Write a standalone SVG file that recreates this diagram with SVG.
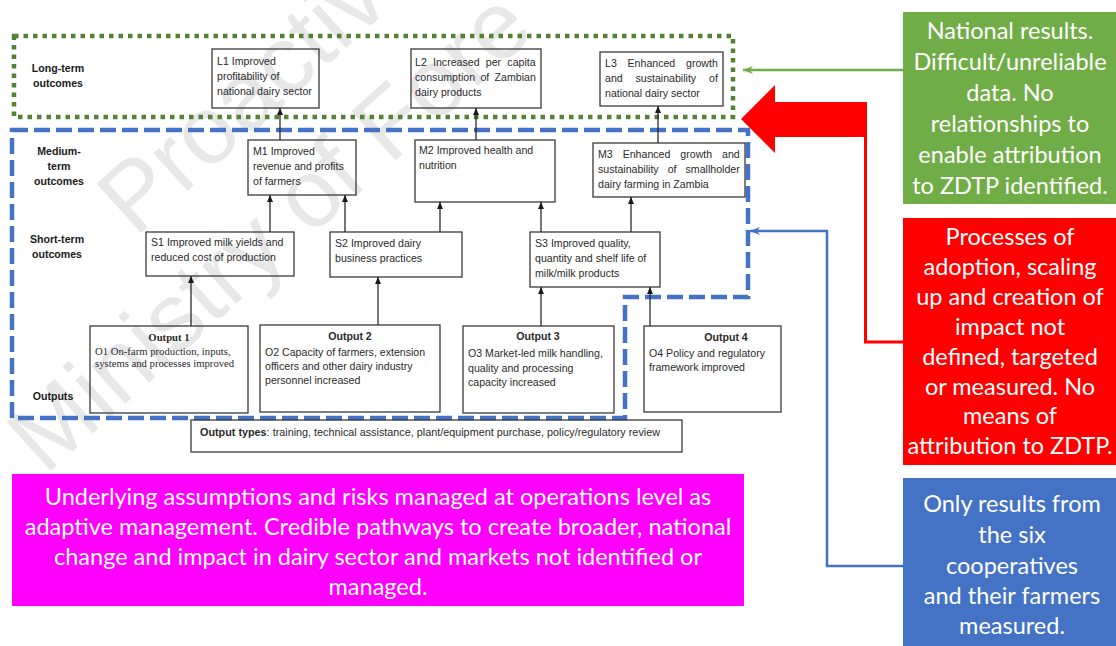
<svg xmlns="http://www.w3.org/2000/svg" width="1116" height="646" viewBox="0 0 1116 646">
<style>
.wm{font-family:"Liberation Sans",Arial,sans-serif;font-size:96px;fill:#e7e7e7}
.box{fill:none;stroke:#3a3a3a;stroke-width:1.3}
.t{font-family:"Liberation Sans",Arial,sans-serif;font-size:10.6px;fill:#2a2a2a}
.lb{font-family:"Liberation Sans",Arial,sans-serif;font-size:10.6px;font-weight:bold;fill:#1a1a1a;text-anchor:middle}
.b{font-weight:bold}
.s{font-family:"Liberation Serif","Times New Roman",serif;font-size:10.7px;fill:#2a2a2a}
.c{font-family:Lato,"Open Sans",sans-serif;font-size:23.5px;fill:#fff;text-anchor:middle}
.ar{fill:none;stroke:#2a2a2a;stroke-width:1.3;marker-end:url(#ah)}
</style>
<defs>
<marker id="ah" viewBox="0 0 7 6" refX="7" refY="3" markerWidth="7" markerHeight="6" markerUnits="userSpaceOnUse" orient="auto"><path d="M0,0 L7,3 L0,6 Z" fill="#1a1a1a"/></marker>
<marker id="ag" viewBox="0 0 10 8" refX="10" refY="4" markerWidth="10" markerHeight="8" markerUnits="userSpaceOnUse" orient="auto"><path d="M0,0 L10,4 L0,8 L3,4 Z" fill="#70AD47"/></marker>
<marker id="ab" viewBox="0 0 10 8" refX="10" refY="4" markerWidth="10" markerHeight="8" markerUnits="userSpaceOnUse" orient="auto"><path d="M0,0 L10,4 L0,8 L3,4 Z" fill="#4472C4"/></marker>
</defs>

<g id="watermark">
<text class="wm" transform="translate(135,238) rotate(-42)">Proactive</text>
<text class="wm" transform="translate(45,476) rotate(-42)">Ministry of Fore</text>
</g>

<g id="regions">
<rect id="long-term-region" x="14" y="36" width="719" height="81" fill="none" stroke="#538135" stroke-width="4.5" stroke-dasharray="4.5 5"/>
<path id="project-region" d="M12,130 H748 V297 H625 V418 H12 Z" fill="none" stroke="#4472C4" stroke-width="4.5" stroke-dasharray="16 6"/>
</g>

<g id="row-labels">
<text class="lb" x="58" y="72">Long-term</text>
<text class="lb" x="58" y="87">outcomes</text>
<text class="lb" x="59" y="155">Medium-</text>
<text class="lb" x="59" y="170">term</text>
<text class="lb" x="59" y="185">outcomes</text>
<text class="lb" x="57" y="243">Short-term</text>
<text class="lb" x="57" y="258">outcomes</text>
<text class="lb" x="53" y="400">Outputs</text>
</g>

<g id="L1">
<rect class="box" x="212" y="49" width="107" height="59"/>
<text class="t" x="217" y="65">L1 Improved</text>
<text class="t" x="217" y="80">profitability of</text>
<text class="t" x="217" y="95">national dairy sector</text>
</g>
<g id="L2">
<rect class="box" x="411" y="49" width="130" height="59"/>
<text class="t" x="415" y="66" word-spacing="3.3">L2 Increased per capita</text>
<text class="t" x="415" y="81" word-spacing="2.4">consumption of Zambian</text>
<text class="t" x="415" y="96">dairy products</text>
</g>
<g id="L3">
<rect class="box" x="600" y="52" width="123" height="54"/>
<text class="t" x="605" y="67" word-spacing="7.8">L3 Enhanced growth</text>
<text class="t" x="605" y="82" word-spacing="9.9">and sustainability of</text>
<text class="t" x="605" y="97">national dairy sector</text>
</g>

<g id="M1">
<rect class="box" x="248" y="140" width="108" height="55"/>
<text class="t" x="253" y="155">M1 Improved</text>
<text class="t" x="253" y="170">revenue and profits</text>
<text class="t" x="253" y="185">of farmers</text>
</g>
<g id="M2">
<rect class="box" x="415" y="140" width="140" height="62"/>
<text class="t" x="419" y="154">M2 Improved health and</text>
<text class="t" x="419" y="169">nutrition</text>
</g>
<g id="M3">
<rect class="box" x="593" y="143" width="152" height="54"/>
<text class="t" x="598" y="158" word-spacing="7">M3 Enhanced growth and</text>
<text class="t" x="598" y="173" word-spacing="6.1">sustainability of smallholder</text>
<text class="t" x="598" y="188">dairy farming in Zambia</text>
</g>

<g id="S1">
<rect class="box" x="146" y="232" width="148" height="44"/>
<text class="t" x="151" y="246">S1 Improved milk yields and</text>
<text class="t" x="151" y="261">reduced cost of production</text>
</g>
<g id="S2">
<rect class="box" x="330" y="232" width="132" height="45"/>
<text class="t" x="335" y="247">S2 Improved dairy</text>
<text class="t" x="335" y="262">business practices</text>
</g>
<g id="S3">
<rect class="box" x="530" y="232" width="130" height="55"/>
<text class="t" x="535" y="247">S3 Improved quality,</text>
<text class="t" x="535" y="262">quantity and shelf life of</text>
<text class="t" x="535" y="277">milk/milk products</text>
</g>

<g id="O1">
<rect class="box" x="90" y="326" width="158" height="87"/>
<text class="s b" x="169" y="341" text-anchor="middle">Output 1</text>
<text class="s" x="95" y="355">O1 On-farm production, inputs,</text>
<text class="s" x="95" y="367">systems and processes improved</text>
</g>
<g id="O2">
<rect class="box" x="260" y="325" width="180" height="87"/>
<text class="t b" x="350" y="340" text-anchor="middle">Output 2</text>
<text class="t" x="265" y="356">O2 Capacity of farmers, extension</text>
<text class="t" x="265" y="370">officers and other dairy industry</text>
<text class="t" x="265" y="384">personnel increased</text>
</g>
<g id="O3">
<rect class="box" x="463" y="326" width="151" height="87"/>
<text class="t b" x="538" y="340" text-anchor="middle">Output 3</text>
<text class="t" x="468" y="357">O3 Market-led milk handling,</text>
<text class="t" x="468" y="371.5">quality and processing</text>
<text class="t" x="468" y="386">capacity increased</text>
</g>
<g id="O4">
<rect class="box" x="644" y="326" width="137" height="86"/>
<text class="t b" x="726" y="341" text-anchor="middle">Output 4</text>
<text class="t" x="649" y="357">O4 Policy and regulatory</text>
<text class="t" x="649" y="371">framework improved</text>
</g>

<g id="output-types">
<rect class="box" x="191" y="420" width="491" height="32" stroke-width="1"/>
<text class="t" x="200" y="436" font-size="9.5" textLength="460" lengthAdjust="spacingAndGlyphs"><tspan font-weight="bold">Output types</tspan>: training, technical assistance, plant/equipment purchase, policy/regulatory review</text>
</g>

<g id="connectors">
<path class="ar" d="M280,140 V108"/>
<path class="ar" d="M476,140 V108"/>
<path class="ar" d="M658,143 V106"/>
<path class="ar" d="M270,232 V195"/>
<path class="ar" d="M345,232 V195"/>
<path class="ar" d="M440,232 V202"/>
<path class="ar" d="M541,232 V202"/>
<path class="ar" d="M631,232 V197"/>
<path class="ar" d="M191,326 V276"/>
<path class="ar" d="M378,325 V277"/>
<path class="ar" d="M541,326 V287"/>
<path class="ar" d="M650,326 V287"/>
<path d="M903,70 H743" fill="none" stroke="#70AD47" stroke-width="2.5" marker-end="url(#ag)"/>
<path d="M903,566 H827 V231 H750" fill="none" stroke="#4472C4" stroke-width="2.5" marker-end="url(#ab)"/>
<polygon points="741,119 775,85 775,102 867,102 867,137 775,137 775,153" fill="#FF0000"/>
<path d="M865.5,136 V342 H903" fill="none" stroke="#FF0000" stroke-width="3"/>
</g>

<g id="note-assumptions">
<rect x="12" y="474" width="732" height="132" fill="#FF00FF"/>
<text class="c" x="378" y="505">Underlying assumptions and risks managed at operations level as</text>
<text class="c" x="378" y="535">adaptive management. Credible pathways to create broader, national</text>
<text class="c" x="378" y="565">change and impact in dairy sector and markets not identified or</text>
<text class="c" x="378" y="595">managed.</text>
</g>

<g id="note-national">
<rect x="903" y="12" width="213" height="192" fill="#70AD47"/>
<text class="c" x="1010" y="39">National results.</text>
<text class="c" x="1010" y="70">Difficult/unreliable</text>
<text class="c" x="1010" y="101">data. No</text>
<text class="c" x="1010" y="132">relationships to</text>
<text class="c" x="1010" y="163">enable attribution</text>
<text class="c" x="1010" y="194">to ZDTP identified.</text>
</g>

<g id="note-processes">
<rect x="903" y="218" width="213" height="247" fill="#FF0000"/>
<text class="c" x="1010" y="245">Processes of</text>
<text class="c" x="1010" y="275">adoption, scaling</text>
<text class="c" x="1010" y="305">up and creation of</text>
<text class="c" x="1010" y="335">impact not</text>
<text class="c" x="1010" y="365">defined, targeted</text>
<text class="c" x="1010" y="395">or measured. No</text>
<text class="c" x="1010" y="424">means of</text>
<text class="c" x="1010" y="454">attribution to ZDTP.</text>
</g>

<g id="note-cooperatives">
<rect x="903" y="478" width="213" height="168" fill="#4472C4"/>
<text class="c" x="1012" y="512">Only results from</text>
<text class="c" x="1012" y="543">the six</text>
<text class="c" x="1012" y="574">cooperatives</text>
<text class="c" x="1012" y="604">and their farmers</text>
<text class="c" x="1012" y="634">measured.</text>
</g>
</svg>
